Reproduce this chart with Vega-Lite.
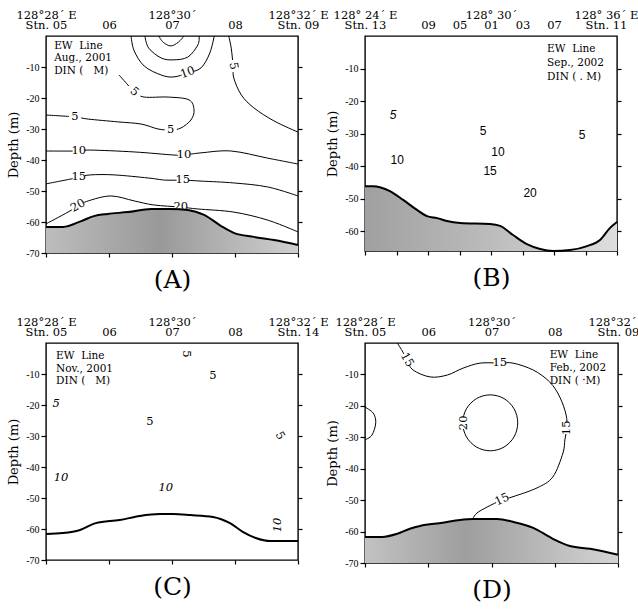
{
"$schema": "https://vega.github.io/schema/vega-lite/v6.json",
"background": "white",
"padding": {"left": 6, "top": 8, "right": 0, "bottom": 0},
"config": {
  "font": "DejaVu Serif",
  "view": {"stroke": "black", "strokeWidth": 1.4},
  "axis": {"grid": false, "domain": false, "labelColor": "black", "tickColor": "black", "titleColor": "black", "labelFont": "DejaVu Serif", "titleFont": "DejaVu Serif", "titleFontWeight": "normal", "labelFlush": false, "labelOverlap": false, "tickWidth": 1.2, "labelAngle": 0},
  "text": {"color": "black", "font": "DejaVu Serif"}
},
"datasets": {
  "A_lines": [
    {"c":1,"i":0,"x":1.79,"d":0},{"c":1,"i":1,"x":1.86,"d":-2.0},{"c":1,"i":2,"x":1.98,"d":-3.2},{"c":1,"i":3,"x":2.10,"d":-2.0},{"c":1,"i":4,"x":2.19,"d":0},
    {"c":2,"i":0,"x":1.57,"d":0},{"c":2,"i":1,"x":1.63,"d":-3.9},{"c":2,"i":2,"x":1.83,"d":-7.1},{"c":2,"i":3,"x":2.02,"d":-7.7},{"c":2,"i":4,"x":2.25,"d":-6.8},{"c":2,"i":5,"x":2.41,"d":-2.9},{"c":2,"i":6,"x":2.43,"d":0},
    {"c":3,"i":0,"x":1.35,"d":0},{"c":3,"i":1,"x":1.40,"d":-4.8},{"c":3,"i":2,"x":1.56,"d":-9.7},{"c":3,"i":3,"x":1.83,"d":-12.6},{"c":3,"i":4,"x":2.03,"d":-13.2},{"c":3,"i":5,"x":2.25,"d":-11.9},{"c":3,"i":6,"x":2.46,"d":-10.3},{"c":3,"i":7,"x":2.60,"d":-5.5},{"c":3,"i":8,"x":2.67,"d":0},
    {"c":4,"i":0,"x":2.90,"d":0},{"c":4,"i":1,"x":2.94,"d":-3.9},{"c":4,"i":2,"x":2.97,"d":-9.7},{"c":4,"i":3,"x":2.98,"d":-13.5},{"c":4,"i":4,"x":3.10,"d":-19.0},{"c":4,"i":5,"x":3.30,"d":-23.2},{"c":4,"i":6,"x":3.62,"d":-27.4},{"c":4,"i":7,"x":4.0,"d":-31.0},
    {"c":5,"i":0,"x":0,"d":-25.5},{"c":5,"i":1,"x":0.46,"d":-26.1},{"c":5,"i":2,"x":0.67,"d":-26.8},{"c":5,"i":3,"x":1.14,"d":-27.7},{"c":5,"i":4,"x":1.51,"d":-28.4},{"c":5,"i":5,"x":1.78,"d":-30.0},{"c":5,"i":6,"x":1.98,"d":-30.3},{"c":5,"i":7,"x":2.14,"d":-29.7},{"c":5,"i":8,"x":2.30,"d":-27.1},{"c":5,"i":9,"x":2.35,"d":-23.9},{"c":5,"i":10,"x":2.27,"d":-20.6},{"c":5,"i":11,"x":1.94,"d":-19.7},{"c":5,"i":12,"x":1.56,"d":-19.7},{"c":5,"i":13,"x":1.40,"d":-18.1},{"c":5,"i":14,"x":1.30,"d":-15.8},{"c":5,"i":15,"x":1.16,"d":-12.6},
    {"c":6,"i":0,"x":0,"d":-37.1},{"c":6,"i":1,"x":0.52,"d":-37.1},{"c":6,"i":2,"x":0.71,"d":-36.8},{"c":6,"i":3,"x":1.40,"d":-37.4},{"c":6,"i":4,"x":2.03,"d":-38.4},{"c":6,"i":5,"x":2.19,"d":-38.4},{"c":6,"i":6,"x":2.46,"d":-37.7},{"c":6,"i":7,"x":2.94,"d":-37.1},{"c":6,"i":8,"x":3.52,"d":-39.4},{"c":6,"i":9,"x":4.0,"d":-41.3},
    {"c":7,"i":0,"x":0,"d":-47.7},{"c":7,"i":1,"x":0.40,"d":-46.1},{"c":7,"i":2,"x":0.52,"d":-45.5},{"c":7,"i":3,"x":0.71,"d":-44.8},{"c":7,"i":4,"x":1.08,"d":-44.8},{"c":7,"i":5,"x":1.62,"d":-45.8},{"c":7,"i":6,"x":1.90,"d":-46.5},{"c":7,"i":7,"x":2.17,"d":-46.5},{"c":7,"i":8,"x":2.46,"d":-46.8},{"c":7,"i":9,"x":2.98,"d":-47.4},{"c":7,"i":10,"x":3.52,"d":-48.7},{"c":7,"i":11,"x":4.0,"d":-51.6},
    {"c":8,"i":0,"x":0,"d":-60.6},{"c":8,"i":1,"x":0.35,"d":-56.8},{"c":8,"i":2,"x":0.51,"d":-54.8},{"c":8,"i":3,"x":0.67,"d":-53.2},{"c":8,"i":4,"x":1.03,"d":-51.6},{"c":8,"i":5,"x":1.40,"d":-53.2},{"c":8,"i":6,"x":1.71,"d":-54.5},{"c":8,"i":7,"x":2.14,"d":-55.2},{"c":8,"i":8,"x":2.41,"d":-55.8},{"c":8,"i":9,"x":2.98,"d":-56.8},{"c":8,"i":10,"x":3.52,"d":-59.4},{"c":8,"i":11,"x":4.0,"d":-63.2}
  ],
  "A_lab": [
    {"t":"5","x":0.46,"d":-26.1},{"t":"5","x":1.98,"d":-30.3},{"t":"10","x":0.52,"d":-37.1},{"t":"10","x":2.19,"d":-38.4},{"t":"15","x":0.52,"d":-45.5},{"t":"15","x":2.17,"d":-46.5},{"t":"20","x":2.14,"d":-55.2}
  ],
  "A_rot": [
    {"t":"10","x":2.25,"d":-11.9},{"t":"5","x":2.97,"d":-9.7},{"t":"5","x":1.40,"d":-18.1},{"t":"20","x":0.51,"d":-54.8}
  ],
  "A_bathy": [
    {"x":0,"d":-61.6},{"x":0.27,"d":-61.6},{"x":0.56,"d":-59.7},{"x":0.76,"d":-58.1},{"x":0.98,"d":-57.4},{"x":1.30,"d":-56.8},{"x":1.67,"d":-55.8},{"x":1.98,"d":-55.8},{"x":2.25,"d":-56.1},{"x":2.51,"d":-57.7},{"x":2.78,"d":-61.3},{"x":2.98,"d":-63.5},{"x":3.30,"d":-64.8},{"x":3.62,"d":-65.8},{"x":4.0,"d":-67.4}
  ],
  "B_bathy": [
    {"x":0,"d":-46.1},{"x":0.25,"d":-46.1},{"x":0.79,"d":-47.6},{"x":1.21,"d":-50.3},{"x":1.65,"d":-53.4},{"x":1.97,"d":-55.3},{"x":2.29,"d":-55.9},{"x":2.60,"d":-56.8},{"x":3.02,"d":-57.4},{"x":3.97,"d":-57.7},{"x":4.29,"d":-58.3},{"x":4.70,"d":-61.1},{"x":5.14,"d":-63.9},{"x":5.56,"d":-65.4},{"x":5.97,"d":-66.0},{"x":6.51,"d":-65.7},{"x":7.05,"d":-64.5},{"x":7.46,"d":-62.6},{"x":7.78,"d":-58.9},{"x":8.0,"d":-57.1}
  ],
  "B_lab": [
    {"t":"5","x":3.75,"d":-29.2},{"t":"5","x":6.89,"d":-30.4},{"t":"10","x":1.02,"d":-38.1},{"t":"10","x":4.22,"d":-35.6},{"t":"15","x":3.97,"d":-41.4},{"t":"20","x":5.24,"d":-48.2}
  ],
  "C_bathy": [
    {"x":0,"d":-61.6},{"x":0.27,"d":-61.3},{"x":0.54,"d":-60.3},{"x":0.79,"d":-58.1},{"x":1.17,"d":-57.1},{"x":1.49,"d":-55.8},{"x":1.81,"d":-55.2},{"x":2.02,"d":-55.2},{"x":2.29,"d":-55.5},{"x":2.65,"d":-56.1},{"x":2.92,"d":-58.1},{"x":3.13,"d":-61.0},{"x":3.33,"d":-62.9},{"x":3.56,"d":-63.9},{"x":4.0,"d":-63.9}
  ],
  "C_up": [
    {"t":"5","x":2.65,"d":-10.6},{"t":"5","x":1.65,"d":-25.5}
  ],
  "C_it": [
    {"t":"5","x":0.16,"d":-19.7},{"t":"10","x":0.24,"d":-43.5},{"t":"10","x":1.90,"d":-46.8}
  ],
  "D_lines": [
    {"c":1,"i":0,"x":0.51,"d":0},{"c":1,"i":1,"x":0.60,"d":-2.9},{"c":1,"i":2,"x":0.66,"d":-5.4},{"c":1,"i":3,"x":0.76,"d":-8.6},{"c":1,"i":4,"x":1.03,"d":-10.8},{"c":1,"i":5,"x":1.30,"d":-10.2},{"c":1,"i":6,"x":1.55,"d":-8.0},{"c":1,"i":7,"x":1.82,"d":-6.4},{"c":1,"i":8,"x":2.13,"d":-6.4},{"c":1,"i":9,"x":2.34,"d":-6.4},{"c":1,"i":10,"x":2.66,"d":-8.6},{"c":1,"i":11,"x":2.92,"d":-12.4},{"c":1,"i":12,"x":3.08,"d":-17.2},{"c":1,"i":13,"x":3.18,"d":-22.9},{"c":1,"i":14,"x":3.19,"d":-27.0},{"c":1,"i":15,"x":3.16,"d":-30.8},{"c":1,"i":16,"x":3.13,"d":-35.0},{"c":1,"i":17,"x":2.97,"d":-42.6},{"c":1,"i":18,"x":2.72,"d":-46.1},{"c":1,"i":19,"x":2.34,"d":-48.9},{"c":1,"i":20,"x":2.17,"d":-49.9},{"c":1,"i":21,"x":1.93,"d":-52.2},{"c":1,"i":22,"x":1.77,"d":-54.1},{"c":1,"i":23,"x":1.71,"d":-55.7},
    {"c":3,"i":0,"x":0,"d":-20.4},{"c":3,"i":1,"x":0.13,"d":-22.3},{"c":3,"i":2,"x":0.17,"d":-25.4},{"c":3,"i":3,"x":0.11,"d":-29.3},{"c":3,"i":4,"x":0,"d":-30.8}
  ],
  "D_circle": [
    {"i":0,"x":2.415,"d":-25.4},{"i":1,"x":2.357,"d":-20.95},{"i":2,"x":2.198,"d":-17.69},{"i":3,"x":1.98,"d":-16.5},{"i":4,"x":1.763,"d":-17.69},{"i":5,"x":1.603,"d":-20.95},{"i":6,"x":1.545,"d":-25.4},{"i":7,"x":1.603,"d":-29.85},{"i":8,"x":1.763,"d":-33.11},{"i":9,"x":1.98,"d":-34.3},{"i":10,"x":2.198,"d":-33.11},{"i":11,"x":2.357,"d":-29.85}
  ],
  "D_labpos": [
    {"t":"15","x":2.13,"d":-6.4},{"t":"15","x":0.66,"d":-5.4},{"t":"15","x":3.19,"d":-27.0},{"t":"20","x":1.56,"d":-25.4},{"t":"15","x":2.17,"d":-49.9}
  ],
  "D_bathy": [
    {"x":0,"d":-61.7},{"x":0.27,"d":-61.7},{"x":0.51,"d":-60.7},{"x":0.71,"d":-59.1},{"x":0.87,"d":-58.2},{"x":1.23,"d":-57.2},{"x":1.50,"d":-56.3},{"x":1.71,"d":-56.0},{"x":2.09,"d":-56.0},{"x":2.34,"d":-56.9},{"x":2.66,"d":-58.8},{"x":2.97,"d":-62.3},{"x":3.24,"d":-64.6},{"x":3.56,"d":-65.5},{"x":4.0,"d":-67.4}
  ]
},
"columns": 2,
"bounds": "flush",
"spacing": {"row": 90, "column": 67},
"concat": [
{
  "width": 252, "height": 217,
  "resolve": {"axis": {"x": "independent", "y": "independent"}},
  "layer": [
    {"data": {"name": "A_lines"}, "mark": {"type": "line", "interpolate": "cardinal", "color": "black", "strokeWidth": 1, "clip": true},
     "encoding": {
       "x": {"field": "x", "type": "quantitative", "scale": {"domain": [0, 4], "nice": false, "zero": false},
             "axis": {"orient": "top", "values": [0,1,2,3,4], "ticks": false, "tickSize": 0, "labelFontSize": 11.5, "labelLineHeight": 10.5, "labelPadding": 16, "title": null,
                      "labelExpr": "datum.value == 0 ? ['128°28´ E', 'Stn. 05'] : datum.value == 1 ? ['', '06'] : datum.value == 2 ? ['128°30´', '07'] : datum.value == 3 ? ['', '08'] : ['128°32´ E', 'Stn. 09']"}},
       "y": {"field": "d", "type": "quantitative", "scale": {"domain": [-70, 0], "nice": false, "zero": false},
             "axis": {"orient": "left", "values": [-10,-20,-30,-40,-50,-60,-70], "labelExpr": "'-' + abs(datum.value)", "labelFont": "Liberation Serif", "labelFontSize": 10, "tickSize": 5, "labelPadding": 2, "title": "Depth (m)", "titleFontSize": 13, "titlePadding": 5}},
       "detail": {"field": "c", "type": "nominal"},
       "order": {"field": "i", "type": "quantitative"}}},
    {"data": {"name": "A_lab"}, "mark": {"type": "point", "shape": "square", "filled": true, "color": "white", "opacity": 1, "size": 150, "strokeWidth": 0},
     "encoding": {"x": {"field": "x", "type": "quantitative", "scale": {"domain": [0, 4], "nice": false, "zero": false}, "axis": null}, "y": {"field": "d", "type": "quantitative", "scale": {"domain": [-70, 0], "nice": false, "zero": false}, "axis": null}}},
    {"data": {"name": "A_rot"}, "mark": {"type": "point", "shape": "square", "filled": true, "color": "white", "opacity": 1, "size": 150, "strokeWidth": 0},
     "encoding": {"x": {"field": "x", "type": "quantitative", "scale": {"domain": [0, 4], "nice": false, "zero": false}, "axis": null}, "y": {"field": "d", "type": "quantitative", "scale": {"domain": [-70, 0], "nice": false, "zero": false}, "axis": null}}},
    {"data": {"name": "A_bathy"}, "mark": {"type": "area", "interpolate": "monotone", "opacity": 1, "color": {"gradient": "linear", "x1": 0, "y1": 0, "x2": 1, "y2": 0, "stops": [{"offset": 0, "color": "#bdbdbd"}, {"offset": 0.45, "color": "#999999"}, {"offset": 1, "color": "#d0d0d0"}]}},
     "encoding": {
       "x": {"field": "x", "type": "quantitative", "scale": {"domain": [0, 4], "nice": false, "zero": false},
             "axis": {"orient": "bottom", "values": [0,1,2,3,4], "labels": false, "tickSize": 4, "title": "(A)", "titleFontSize": 25, "titlePadding": 10}},
       "y": {"field": "d", "type": "quantitative", "scale": {"domain": [-70, 0], "nice": false, "zero": false},
             "axis": {"orient": "right", "values": [-10,-20,-30,-40,-50,-60], "labels": false, "tickSize": 4, "title": null}},
       "y2": {"datum": -70}}},
    {"data": {"name": "A_bathy"}, "mark": {"type": "line", "interpolate": "monotone", "color": "black", "strokeWidth": 2},
     "encoding": {"x": {"field": "x", "type": "quantitative", "scale": {"domain": [0, 4], "nice": false, "zero": false}, "axis": null}, "y": {"field": "d", "type": "quantitative", "scale": {"domain": [-70, 0], "nice": false, "zero": false}, "axis": null}}},
    {"data": {"name": "A_lab"}, "mark": {"type": "text", "fontSize": 11.5},
     "encoding": {"x": {"field": "x", "type": "quantitative", "scale": {"domain": [0, 4], "nice": false, "zero": false}, "axis": null}, "y": {"field": "d", "type": "quantitative", "scale": {"domain": [-70, 0], "nice": false, "zero": false}, "axis": null}, "text": {"field": "t"}}},
    {"data": {"values": [{"t": "10", "x": 2.25, "d": -11.9}]}, "mark": {"type": "text", "fontSize": 11.5, "angle": 340},
     "encoding": {"x": {"field": "x", "type": "quantitative", "scale": {"domain": [0, 4], "nice": false, "zero": false}, "axis": null}, "y": {"field": "d", "type": "quantitative", "scale": {"domain": [-70, 0], "nice": false, "zero": false}, "axis": null}, "text": {"field": "t"}}},
    {"data": {"values": [{"t": "5", "x": 2.97, "d": -9.7}]}, "mark": {"type": "text", "fontSize": 11.5, "angle": 80},
     "encoding": {"x": {"field": "x", "type": "quantitative", "scale": {"domain": [0, 4], "nice": false, "zero": false}, "axis": null}, "y": {"field": "d", "type": "quantitative", "scale": {"domain": [-70, 0], "nice": false, "zero": false}, "axis": null}, "text": {"field": "t"}}},
    {"data": {"values": [{"t": "5", "x": 1.40, "d": -18.1}]}, "mark": {"type": "text", "fontSize": 11.5, "angle": 40},
     "encoding": {"x": {"field": "x", "type": "quantitative", "scale": {"domain": [0, 4], "nice": false, "zero": false}, "axis": null}, "y": {"field": "d", "type": "quantitative", "scale": {"domain": [-70, 0], "nice": false, "zero": false}, "axis": null}, "text": {"field": "t"}}},
    {"data": {"values": [{"t": "20", "x": 0.51, "d": -54.8}]}, "mark": {"type": "text", "fontSize": 11.5, "angle": 330},
     "encoding": {"x": {"field": "x", "type": "quantitative", "scale": {"domain": [0, 4], "nice": false, "zero": false}, "axis": null}, "y": {"field": "d", "type": "quantitative", "scale": {"domain": [-70, 0], "nice": false, "zero": false}, "axis": null}, "text": {"field": "t"}}},
    {"data": {"values": [{"x": 0.13, "d": -1.6, "t": "EW\u00a0\u00a0Line\nAug., 2001\nDIN (\u00a0\u00a0\u00a0M)"}]}, "mark": {"type": "text", "align": "left", "baseline": "top", "fontSize": 10.5, "lineBreak": "\n", "lineHeight": 12.5},
     "encoding": {"x": {"field": "x", "type": "quantitative", "scale": {"domain": [0, 4], "nice": false, "zero": false}, "axis": null}, "y": {"field": "d", "type": "quantitative", "scale": {"domain": [-70, 0], "nice": false, "zero": false}, "axis": null}, "text": {"field": "t"}}}
  ]
},
{
  "width": 252, "height": 215,
  "resolve": {"axis": {"x": "independent", "y": "independent"}},
  "layer": [
    {"data": {"name": "B_bathy"}, "mark": {"type": "area", "interpolate": "monotone", "opacity": 1, "color": {"gradient": "linear", "x1": 0, "y1": 0, "x2": 1, "y2": 0, "stops": [{"offset": 0, "color": "#a0a0a0"}, {"offset": 0.5, "color": "#bcbcbc"}, {"offset": 1, "color": "#dedede"}]}},
     "encoding": {
       "x": {"field": "x", "type": "quantitative", "scale": {"domain": [0, 8], "nice": false, "zero": false},
             "axis": {"orient": "top", "values": [0,2,3,4,5,6,8], "ticks": false, "tickSize": 0, "labelFontSize": 11.5, "labelLineHeight": 10.5, "labelPadding": 16, "title": null,
                      "labelOffset": {"condition": {"test": "datum.value == 8", "value": -11}, "value": 0},
                      "labelExpr": "datum.value == 0 ? ['128° 24´ E', 'Stn. 13'] : datum.value == 2 ? ['', '09'] : datum.value == 3 ? ['', '05'] : datum.value == 4 ? ['128° 30´', '01'] : datum.value == 5 ? ['', '03'] : datum.value == 6 ? ['', '07'] : ['128° 36´ E', 'Stn. 11']"}},
       "y": {"field": "d", "type": "quantitative", "scale": {"domain": [-66, 0], "nice": false, "zero": false},
             "axis": {"orient": "left", "values": [-10,-20,-30,-40,-50,-60], "labelExpr": "'-' + abs(datum.value)", "labelFont": "Liberation Serif", "labelFontSize": 10, "tickSize": 5, "labelPadding": 2, "title": "Depth (m)", "titleFontSize": 13, "titlePadding": 5}},
       "y2": {"datum": -66}}},
    {"data": {"name": "B_bathy"}, "mark": {"type": "line", "interpolate": "monotone", "color": "black", "strokeWidth": 2},
     "encoding": {
       "x": {"field": "x", "type": "quantitative", "scale": {"domain": [0, 8], "nice": false, "zero": false},
             "axis": {"orient": "bottom", "values": [0,1,2,3,4,5,6,7,8], "labels": false, "tickSize": 4, "title": "(B)", "titleFontSize": 25, "titlePadding": 10}},
       "y": {"field": "d", "type": "quantitative", "scale": {"domain": [-66, 0], "nice": false, "zero": false},
             "axis": {"orient": "right", "values": [-10,-20,-30,-40,-50,-60], "labels": false, "tickSize": 4, "title": null}}}},
    {"data": {"name": "B_lab"}, "mark": {"type": "text", "fontSize": 12, "font": "Liberation Sans"},
     "encoding": {"x": {"field": "x", "type": "quantitative", "scale": {"domain": [0, 8], "nice": false, "zero": false}, "axis": null}, "y": {"field": "d", "type": "quantitative", "scale": {"domain": [-66, 0], "nice": false, "zero": false}, "axis": null}, "text": {"field": "t"}}},
    {"data": {"values": [{"t": "5", "x": 0.89, "d": -24.3}]}, "mark": {"type": "text", "fontSize": 12, "font": "Liberation Sans", "fontStyle": "italic"},
     "encoding": {"x": {"field": "x", "type": "quantitative", "scale": {"domain": [0, 8], "nice": false, "zero": false}, "axis": null}, "y": {"field": "d", "type": "quantitative", "scale": {"domain": [-66, 0], "nice": false, "zero": false}, "axis": null}, "text": {"field": "t"}}},
    {"data": {"values": [{"x": 5.78, "d": -2.5, "t": "EW\u00a0\u00a0Line\nSep., 2002\nDIN ( . M)"}]}, "mark": {"type": "text", "align": "left", "baseline": "top", "fontSize": 10.5, "lineBreak": "\n", "lineHeight": 14},
     "encoding": {"x": {"field": "x", "type": "quantitative", "scale": {"domain": [0, 8], "nice": false, "zero": false}, "axis": null}, "y": {"field": "d", "type": "quantitative", "scale": {"domain": [-66, 0], "nice": false, "zero": false}, "axis": null}, "text": {"field": "t"}}}
  ]
},
{
  "width": 252, "height": 217,
  "resolve": {"axis": {"x": "independent", "y": "independent"}},
  "layer": [
    {"data": {"name": "C_bathy"}, "mark": {"type": "line", "interpolate": "monotone", "color": "black", "strokeWidth": 2},
     "encoding": {
       "x": {"field": "x", "type": "quantitative", "scale": {"domain": [0, 4], "nice": false, "zero": false},
             "axis": {"orient": "top", "values": [0,1,2,3,4], "ticks": false, "tickSize": 0, "labelFontSize": 11.5, "labelLineHeight": 10.5, "labelPadding": 16, "title": null,
                      "labelExpr": "datum.value == 0 ? ['128°28´ E', 'Stn. 05'] : datum.value == 1 ? ['', '06'] : datum.value == 2 ? ['128°30´', '07'] : datum.value == 3 ? ['', '08'] : ['128°32´ E', 'Stn. 14']"}},
       "y": {"field": "d", "type": "quantitative", "scale": {"domain": [-70, 0], "nice": false, "zero": false},
             "axis": {"orient": "left", "values": [-10,-20,-30,-40,-50,-60,-70], "labelExpr": "'-' + abs(datum.value)", "labelFont": "Liberation Serif", "labelFontSize": 10, "tickSize": 5, "labelPadding": 2, "title": "Depth (m)", "titleFontSize": 13, "titlePadding": 5}}}},
    {"data": {"name": "C_up"}, "mark": {"type": "text", "fontSize": 11.5},
     "encoding": {
       "x": {"field": "x", "type": "quantitative", "scale": {"domain": [0, 4], "nice": false, "zero": false},
             "axis": {"orient": "bottom", "values": [0,1,2,3,4], "labels": false, "tickSize": 4, "title": "(C)", "titleFontSize": 25, "titlePadding": 10}},
       "y": {"field": "d", "type": "quantitative", "scale": {"domain": [-70, 0], "nice": false, "zero": false},
             "axis": {"orient": "right", "values": [-10,-20,-30,-40,-50,-60], "labels": false, "tickSize": 4, "title": null}},
       "text": {"field": "t"}}},
    {"data": {"name": "C_it"}, "mark": {"type": "text", "fontSize": 11.5, "fontStyle": "italic"},
     "encoding": {"x": {"field": "x", "type": "quantitative", "scale": {"domain": [0, 4], "nice": false, "zero": false}, "axis": null}, "y": {"field": "d", "type": "quantitative", "scale": {"domain": [-70, 0], "nice": false, "zero": false}, "axis": null}, "text": {"field": "t"}}},
    {"data": {"values": [{"t": "5", "x": 2.22, "d": -3.5}]}, "mark": {"type": "text", "fontSize": 11.5, "angle": 90},
     "encoding": {"x": {"field": "x", "type": "quantitative", "scale": {"domain": [0, 4], "nice": false, "zero": false}, "axis": null}, "y": {"field": "d", "type": "quantitative", "scale": {"domain": [-70, 0], "nice": false, "zero": false}, "axis": null}, "text": {"field": "t"}}},
    {"data": {"values": [{"t": "5", "x": 3.71, "d": -30.0}]}, "mark": {"type": "text", "fontSize": 11.5, "angle": 60},
     "encoding": {"x": {"field": "x", "type": "quantitative", "scale": {"domain": [0, 4], "nice": false, "zero": false}, "axis": null}, "y": {"field": "d", "type": "quantitative", "scale": {"domain": [-70, 0], "nice": false, "zero": false}, "axis": null}, "text": {"field": "t"}}},
    {"data": {"values": [{"t": "10", "x": 3.68, "d": -58.7}]}, "mark": {"type": "text", "fontSize": 11.5, "angle": 270, "fontStyle": "italic"},
     "encoding": {"x": {"field": "x", "type": "quantitative", "scale": {"domain": [0, 4], "nice": false, "zero": false}, "axis": null}, "y": {"field": "d", "type": "quantitative", "scale": {"domain": [-70, 0], "nice": false, "zero": false}, "axis": null}, "text": {"field": "t"}}},
    {"data": {"values": [{"x": 0.16, "d": -2.6, "t": "EW\u00a0\u00a0Line\nNov., 2001\nDIN (\u00a0\u00a0\u00a0M)"}]}, "mark": {"type": "text", "align": "left", "baseline": "top", "fontSize": 10.5, "lineBreak": "\n", "lineHeight": 12.5},
     "encoding": {"x": {"field": "x", "type": "quantitative", "scale": {"domain": [0, 4], "nice": false, "zero": false}, "axis": null}, "y": {"field": "d", "type": "quantitative", "scale": {"domain": [-70, 0], "nice": false, "zero": false}, "axis": null}, "text": {"field": "t"}}}
  ]
},
{
  "width": 253, "height": 220,
  "resolve": {"axis": {"x": "independent", "y": "independent"}},
  "layer": [
    {"data": {"name": "D_lines"}, "mark": {"type": "line", "interpolate": "cardinal", "color": "black", "strokeWidth": 1, "clip": true},
     "encoding": {
       "x": {"field": "x", "type": "quantitative", "scale": {"domain": [0, 4], "nice": false, "zero": false},
             "axis": {"orient": "top", "values": [0,1,2,3,4], "ticks": false, "tickSize": 0, "labelFontSize": 11.5, "labelLineHeight": 10.5, "labelPadding": 16, "title": null,
                      "labelExpr": "datum.value == 0 ? ['128°28´ E', 'Stn. 05'] : datum.value == 1 ? ['', '06'] : datum.value == 2 ? ['128°30´', '07'] : datum.value == 3 ? ['', '08'] : ['128°32´ E', 'Stn. 09']"}},
       "y": {"field": "d", "type": "quantitative", "scale": {"domain": [-70, 0], "nice": false, "zero": false},
             "axis": {"orient": "left", "values": [-10,-20,-30,-40,-50,-60,-70], "labelExpr": "'-' + abs(datum.value)", "labelFont": "Liberation Serif", "labelFontSize": 10, "tickSize": 5, "labelPadding": 2, "title": "Depth (m)", "titleFontSize": 13, "titlePadding": 5}},
       "detail": {"field": "c", "type": "nominal"},
       "order": {"field": "i", "type": "quantitative"}}},
    {"data": {"name": "D_circle"}, "mark": {"type": "line", "interpolate": "cardinal-closed", "color": "black", "strokeWidth": 1},
     "encoding": {"x": {"field": "x", "type": "quantitative", "scale": {"domain": [0, 4], "nice": false, "zero": false}, "axis": null}, "y": {"field": "d", "type": "quantitative", "scale": {"domain": [-70, 0], "nice": false, "zero": false}, "axis": null}, "order": {"field": "i", "type": "quantitative"}}},
    {"data": {"name": "D_labpos"}, "mark": {"type": "point", "shape": "square", "filled": true, "color": "white", "opacity": 1, "size": 150, "strokeWidth": 0},
     "encoding": {"x": {"field": "x", "type": "quantitative", "scale": {"domain": [0, 4], "nice": false, "zero": false}, "axis": null}, "y": {"field": "d", "type": "quantitative", "scale": {"domain": [-70, 0], "nice": false, "zero": false}, "axis": null}}},
    {"data": {"name": "D_bathy"}, "mark": {"type": "area", "interpolate": "monotone", "opacity": 1, "color": {"gradient": "linear", "x1": 0, "y1": 0, "x2": 1, "y2": 0, "stops": [{"offset": 0, "color": "#c2c2c2"}, {"offset": 0.4, "color": "#9e9e9e"}, {"offset": 1, "color": "#d4d4d4"}]}},
     "encoding": {
       "x": {"field": "x", "type": "quantitative", "scale": {"domain": [0, 4], "nice": false, "zero": false},
             "axis": {"orient": "bottom", "values": [0,1,2,3,4], "labels": false, "tickSize": 4, "title": "(D)", "titleFontSize": 25, "titlePadding": 10}},
       "y": {"field": "d", "type": "quantitative", "scale": {"domain": [-70, 0], "nice": false, "zero": false},
             "axis": {"orient": "right", "values": [-10,-20,-30,-40,-50,-60], "labels": false, "tickSize": 4, "title": null}},
       "y2": {"datum": -70}}},
    {"data": {"name": "D_bathy"}, "mark": {"type": "line", "interpolate": "monotone", "color": "black", "strokeWidth": 2},
     "encoding": {"x": {"field": "x", "type": "quantitative", "scale": {"domain": [0, 4], "nice": false, "zero": false}, "axis": null}, "y": {"field": "d", "type": "quantitative", "scale": {"domain": [-70, 0], "nice": false, "zero": false}, "axis": null}}},
    {"data": {"values": [{"t": "15", "x": 2.13, "d": -6.4}]}, "mark": {"type": "text", "fontSize": 11.5},
     "encoding": {"x": {"field": "x", "type": "quantitative", "scale": {"domain": [0, 4], "nice": false, "zero": false}, "axis": null}, "y": {"field": "d", "type": "quantitative", "scale": {"domain": [-70, 0], "nice": false, "zero": false}, "axis": null}, "text": {"field": "t"}}},
    {"data": {"values": [{"t": "15", "x": 0.66, "d": -5.4}]}, "mark": {"type": "text", "fontSize": 11.5, "angle": 60},
     "encoding": {"x": {"field": "x", "type": "quantitative", "scale": {"domain": [0, 4], "nice": false, "zero": false}, "axis": null}, "y": {"field": "d", "type": "quantitative", "scale": {"domain": [-70, 0], "nice": false, "zero": false}, "axis": null}, "text": {"field": "t"}}},
    {"data": {"values": [{"t": "15", "x": 3.19, "d": -27.0}, {"t": "20", "x": 1.56, "d": -25.4}]}, "mark": {"type": "text", "fontSize": 11.5, "angle": 270},
     "encoding": {"x": {"field": "x", "type": "quantitative", "scale": {"domain": [0, 4], "nice": false, "zero": false}, "axis": null}, "y": {"field": "d", "type": "quantitative", "scale": {"domain": [-70, 0], "nice": false, "zero": false}, "axis": null}, "text": {"field": "t"}}},
    {"data": {"values": [{"t": "15", "x": 2.17, "d": -49.9}]}, "mark": {"type": "text", "fontSize": 11.5, "angle": 335},
     "encoding": {"x": {"field": "x", "type": "quantitative", "scale": {"domain": [0, 4], "nice": false, "zero": false}, "axis": null}, "y": {"field": "d", "type": "quantitative", "scale": {"domain": [-70, 0], "nice": false, "zero": false}, "axis": null}, "text": {"field": "t"}}},
    {"data": {"values": [{"x": 2.92, "d": -2.2, "t": "EW\u00a0\u00a0Line\nFeb., 2002\nDIN ( ·M)"}]}, "mark": {"type": "text", "align": "left", "baseline": "top", "fontSize": 10.5, "lineBreak": "\n", "lineHeight": 13},
     "encoding": {"x": {"field": "x", "type": "quantitative", "scale": {"domain": [0, 4], "nice": false, "zero": false}, "axis": null}, "y": {"field": "d", "type": "quantitative", "scale": {"domain": [-70, 0], "nice": false, "zero": false}, "axis": null}, "text": {"field": "t"}}}
  ]
}
]
}
